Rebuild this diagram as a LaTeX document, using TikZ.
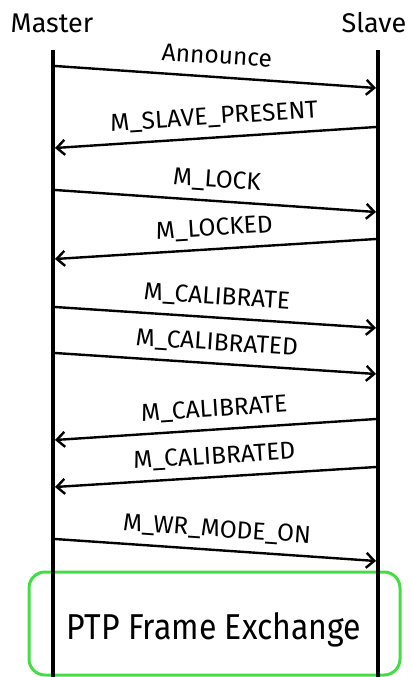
\documentclass[tikz,border=0pt]{standalone}
\usepackage{fontspec}
\setmainfont{Fira Sans}
\usetikzlibrary{arrows.meta}
\definecolor{boxgreen}{RGB}{68,221,68}
\begin{document}
\begin{tikzpicture}[x=1pt,y=-1pt,
  lifeline/.style={line width=4pt},
  msg/.style={line width=2.4pt, -{Straight Barb[length=8pt,width=15pt,line width=2.4pt]}},
  lbl/.style={font=\fontsize{24.5}{24.5}\selectfont, sloped, above=12pt, inner sep=0pt, text depth=0pt},
  role/.style={font=\fontsize{27}{27}\selectfont},
  phase/.style={draw=boxgreen, rounded corners=16pt, line width=3pt, minimum width=371pt, minimum height=103pt},
  phasetext/.style={font=\fontsize{36}{36}\selectfont\addfontfeatures{FakeStretch=0.89}, inner sep=0pt, text depth=0pt}
]
\useasboundingbox (0,0) rectangle (410,677);
\node[role] (master) at (52,23) {Master};
\node[role] (slave) at (374,23) {Slave};
\node[phase] (ptp) at (214.5,623.5) {};
\node[phasetext] (ptplabel) at (214,626) {PTP Frame Exchange};
\coordinate (mtop) at (53,50); \coordinate (mbot) at (53,677);
\coordinate (stop) at (378,50); \coordinate (sbot) at (378,677);
\draw[lifeline] (mtop) -- (mbot);
\draw[lifeline] (stop) -- (sbot);
% message endpoints
\coordinate (m1) at (55,66);  \coordinate (s1) at (376,88);
\coordinate (s2) at (376,127); \coordinate (m2) at (55,148);
\coordinate (m3) at (55,190); \coordinate (s3) at (376,212);
\coordinate (s4) at (376,239); \coordinate (m4) at (55,259);
\coordinate (m5) at (55,307); \coordinate (s5) at (376,328);
\coordinate (m6) at (55,353); \coordinate (s6) at (376,374);
\coordinate (s7) at (376,419); \coordinate (m7) at (55,440);
\coordinate (s8) at (376,467); \coordinate (m8) at (55,487);
\coordinate (m9) at (55,539); \coordinate (s9) at (376,561);
\draw[msg] (m1) -- node[lbl] {Announce} (s1);
\draw[msg] (s2) -- node[lbl] {M\_SLAVE\_PRESENT} (m2);
\draw[msg] (m3) -- node[lbl] {M\_LOCK} (s3);
\draw[msg] (s4) -- node[lbl] {M\_LOCKED} (m4);
\draw[msg] (m5) -- node[lbl] {M\_CALIBRATE} (s5);
\draw[msg] (m6) -- node[lbl] {M\_CALIBRATED} (s6);
\draw[msg] (s7) -- node[lbl] {M\_CALIBRATE} (m7);
\draw[msg] (s8) -- node[lbl] {M\_CALIBRATED} (m8);
\draw[msg] (m9) -- node[lbl] {M\_WR\_MODE\_ON} (s9);
\end{tikzpicture}
\end{document}
